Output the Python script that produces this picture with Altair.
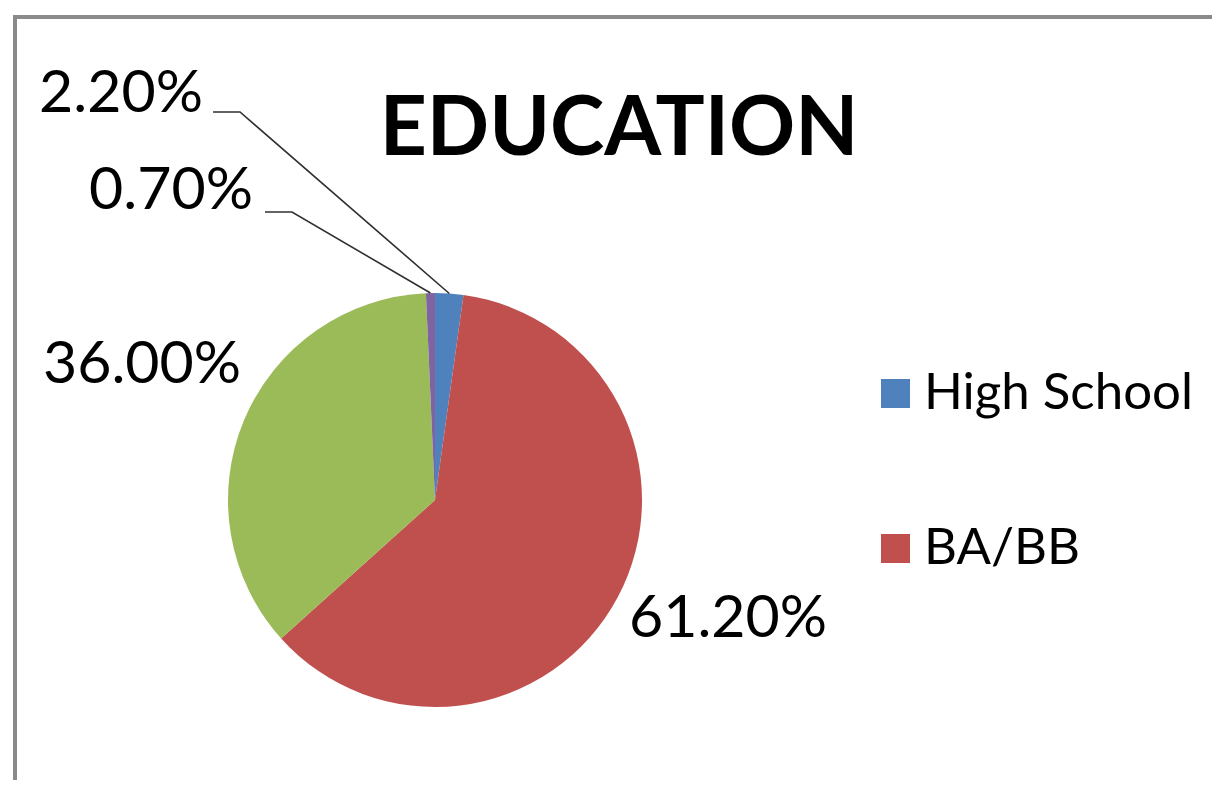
import math
import altair as alt
import pandas as pd

# ---------------- data ----------------
categories = ["High School", "BA/BB", "Masters", "PhD"]
shares = [2.2, 61.2, 36.0, 0.7]
colors = ["#4F81BD", "#C0504D", "#9BBB59", "#8064A2"]
legend_entries = ["High School", "BA/BB"]
title_text = "EDUCATION"

# ---------------- layout (chart pixels) ----------------
W, H = 1204, 772
CX, CY, R = 427, 492, 207
FONT = "Lato"
LABEL_SIZE = 59
label_anchor = {  # centre x, baseline y
    "High School": (113, 104),
    "BA/BB": (720, 629),
    "Masters": (134, 375),
    "PhD": (163, 201),
}
leader_elbow = {  # start and elbow of leader lines
    "High School": [(205, 104), (232, 104)],
    "PhD": [(257, 204), (284, 204)],
}

total = sum(shares)
df = pd.DataFrame({
    "category": categories,
    "share": shares,
    "idx": list(range(len(categories))),
    "label": [f"{v:.2f}%" for v in shares],
})

lab_df = df.copy()
lab_df["lx"] = [label_anchor[c][0] for c in categories]
lab_df["ly"] = [label_anchor[c][1] for c in categories]

# leader lines: from label elbow to the slice edge at its mid angle
rows = []
cum = 0.0
for c, v in zip(categories, shares):
    mid = (cum + v / 2) / total * 2 * math.pi
    cum += v
    if c in leader_elbow:
        pts = leader_elbow[c] + [(CX + R * math.sin(mid), CY - R * math.cos(mid))]
        for i, (px, py) in enumerate(pts):
            rows.append({"category": c, "seq": i, "px": px, "py": py})
lead_df = pd.DataFrame(rows)

one = pd.DataFrame({"a": [0]})
frame_top = alt.Chart(one).mark_rule(color="#8a8a8a", strokeWidth=4).encode(
    x=alt.value(5), x2=alt.value(W), y=alt.value(9)
)
frame_left = alt.Chart(one).mark_rule(color="#8a8a8a", strokeWidth=4).encode(
    x=alt.value(7), y=alt.value(7), y2=alt.value(H)
)

pie = alt.Chart(df).mark_arc(radius=R).encode(
    theta=alt.Theta("share:Q", stack=True),
    color=alt.Color(
        "category:N",
        sort=categories,
        scale=alt.Scale(domain=categories, range=colors),
        legend=alt.Legend(
            orient="none", legendX=862, legendY=360, values=legend_entries,
            title=None, symbolType="square", symbolSize=841, symbolStrokeWidth=0,
            labelFont=FONT, labelFontSize=51, labelLimit=600, labelOffset=3,
            rowPadding=103, padding=0, labelColor="#000000",
        ),
    ),
    order=alt.Order("idx:Q"),
    x=alt.value(CX),
    y=alt.value(CY),
)

leaders = alt.Chart(lead_df).mark_line(color="#303030", strokeWidth=1.6).encode(
    x=alt.X("px:Q", scale=None, axis=None),
    y=alt.Y("py:Q", scale=None, axis=None),
    detail="category:N",
    order="seq:Q",
)

labels = alt.Chart(lab_df).mark_text(
    font=FONT, fontSize=LABEL_SIZE, align="center", baseline="alphabetic", color="#000000"
).encode(
    x=alt.X("lx:Q", scale=None, axis=None),
    y=alt.Y("ly:Q", scale=None, axis=None),
    text="label:N",
)

title = alt.Chart(pd.DataFrame({"t": [title_text]})).mark_text(
    font=FONT, fontSize=82, fontWeight="bold", align="center", baseline="alphabetic",
    color="#000000",
).encode(x=alt.value(611), y=alt.value(147), text="t:N")

chart = alt.layer(frame_top, frame_left, pie, leaders, labels, title).properties(
    width=W, height=H, padding=0, autosize=alt.AutoSizeParams(type="none"),
    background="#ffffff",
).configure_view(strokeWidth=0)

chart.save("out.html", embed_options={"renderer": "svg", "actions": False})
